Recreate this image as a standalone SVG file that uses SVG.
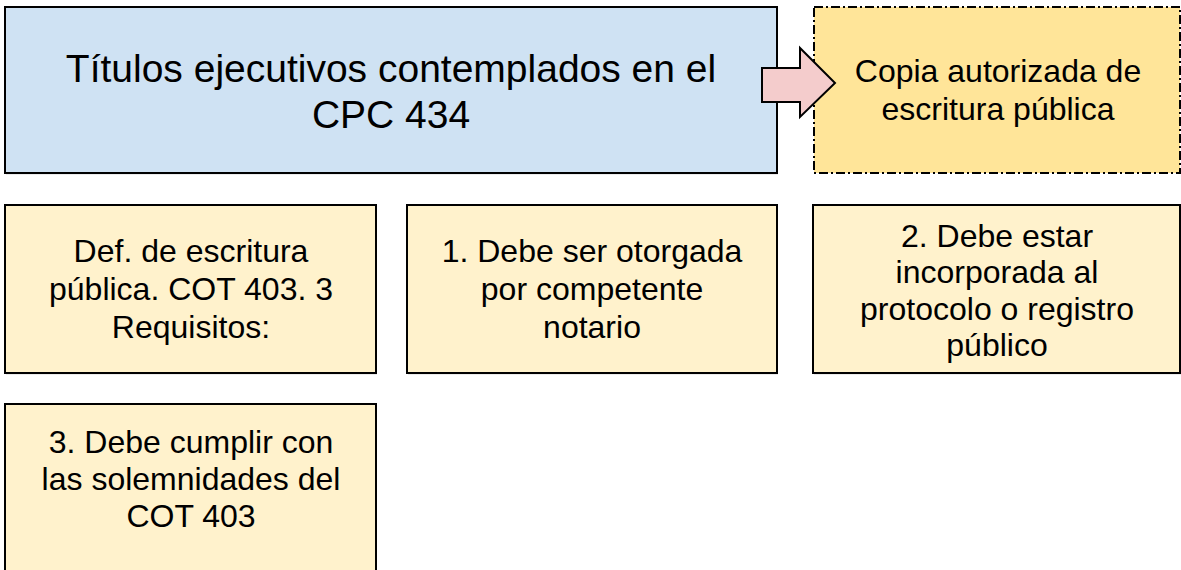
<svg xmlns="http://www.w3.org/2000/svg" width="1181" height="570" viewBox="0 0 1181 570">
<style>
.box{stroke:#000;stroke-width:2}
.blue{fill:#cfe2f3}
.lt{fill:#fff2cc}
.gold{fill:#ffe599;stroke-dasharray:9 3 2 3}
text{font-family:"Liberation Sans",Arial,sans-serif;fill:#000;text-anchor:middle}
.t{font-size:39px}
.s{font-size:32px}
.shadow{fill:#000;opacity:0.08}
</style>
<rect width="1181" height="570" fill="#fff"/>
<g id="title">
<rect class="shadow" x="6" y="9" width="772" height="166"/>
<rect class="box blue" x="5" y="7" width="772" height="166"/>
<text class="t" x="391" y="82">Títulos ejecutivos contemplados en el</text>
<text class="t" x="391" y="128">CPC 434</text>
</g>
<g id="copia">
<rect class="box gold" x="814" y="7" width="366" height="166"/>
<text class="s" x="998" y="82">Copia autorizada de</text>
<text class="s" x="998" y="120">escritura pública</text>
</g>
<g id="connectors">
<polygon points="762,68 800,68 800,48 835,83 800,117 800,102 762,102" fill="#f4cccc" stroke="#000" stroke-width="2" stroke-linejoin="miter"/>
</g>
<g id="def">
<rect class="shadow" x="6" y="207" width="371" height="168"/>
<rect class="box lt" x="5" y="205" width="371" height="168"/>
<text class="s" x="191" y="262">Def. de escritura</text>
<text class="s" x="191" y="300">pública. COT 403. 3</text>
<text class="s" x="191" y="338">Requisitos:</text>
</g>
<g id="req1">
<rect class="shadow" x="408" y="207" width="370" height="168"/>
<rect class="box lt" x="407" y="205" width="370" height="168"/>
<text class="s" x="592" y="262">1. Debe ser otorgada</text>
<text class="s" x="592" y="300">por competente</text>
<text class="s" x="592" y="338">notario</text>
</g>
<g id="req2">
<rect class="shadow" x="814" y="207" width="367" height="168"/>
<rect class="box lt" x="813" y="205" width="367" height="168"/>
<text class="s" x="997" y="247">2. Debe estar</text>
<text class="s" x="997" y="283">incorporada al</text>
<text class="s" x="997" y="320">protocolo o registro</text>
<text class="s" x="997" y="356">público</text>
</g>
<g id="req3">
<rect class="box lt" x="5" y="404" width="371" height="180"/>
<text class="s" x="191" y="453">3. Debe cumplir con</text>
<text class="s" x="191" y="490">las solemnidades del</text>
<text class="s" x="191" y="527">COT 403</text>
</g>
</svg>
